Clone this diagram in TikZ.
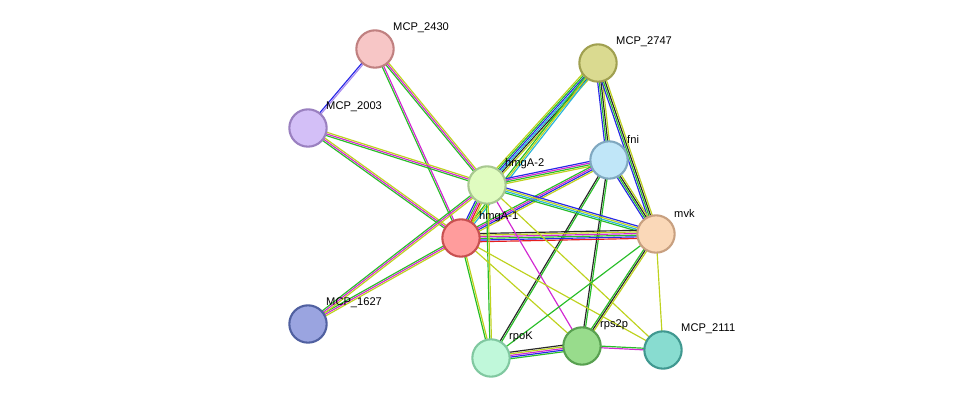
\documentclass[tikz,border=0pt]{standalone}
\usepackage{fontspec}
\setmainfont{Liberation Sans}
\usetikzlibrary{calc}
\definecolor{EGreen}{RGB}{40,190,40}
\definecolor{EMag}{RGB}{210,40,210}
\definecolor{EYel}{RGB}{190,210,30}
\definecolor{EBlue}{RGB}{40,40,230}
\definecolor{ECyan}{RGB}{40,180,220}
\definecolor{ELil}{RGB}{170,140,240}
\definecolor{ERed}{RGB}{230,30,30}
\definecolor{EBlack}{RGB}{40,40,40}
\tikzset{
    prot/.style={circle, line width=1.8pt, minimum size=11.2mm, inner sep=0pt},
    lbl/.style={font=\fontsize{9.5}{11}\selectfont, anchor=west, inner sep=0pt},
    edge/.style={line width=1pt}
}
% bundle of parallel lines: \bundle{a}{b}{colour list}
\newcommand{\bundle}[3]{%
    \foreach \col [count=\i] in {#3} {\xdef\nb{\i}}%
    \foreach \col [count=\i] in {#3} {%
        \pgfmathsetmacro{\off}{(\i-(\nb+1)/2)*1.4}%
        \draw[edge, draw=\col] ($(#1)!\off pt!90:(#2)$) -- ($(#2)!\off pt!-90:(#1)$);
    }%
}
\begin{document}
\begin{tikzpicture}[x=0.03cm, y=-0.03cm]
    \useasboundingbox (0,0) rectangle (976,404);
    \coordinate (m2430) at (375,49);
    \coordinate (m2747) at (598,63);
    \coordinate (m2003) at (308,128);
    \coordinate (fni) at (609,160);
    \coordinate (hmg2) at (487,185);
    \coordinate (hmg1) at (461,238);
    \coordinate (mvk) at (656,234);
    \coordinate (m1627) at (308,324);
    \coordinate (rpok) at (491,358);
    \coordinate (rps2) at (582,346);
    \coordinate (m2111) at (663,350);
    % edges
    \bundle{m2430}{m2003}{EBlue,ELil}
    \bundle{m2430}{hmg2}{EGreen,EMag,EYel}
    \bundle{m2430}{hmg1}{EGreen,EMag}
    \bundle{m2003}{hmg2}{EGreen,EMag,EYel}
    \bundle{m2003}{hmg1}{EGreen,EMag,EYel}
    \bundle{m2747}{hmg2}{EYel,EGreen,EBlue,ECyan,EBlack,EYel}
    \bundle{m2747}{hmg1}{EGreen,EYel,ECyan}
    \bundle{m2747}{fni}{EBlue,EGreen,EBlack,EYel}
    \bundle{m2747}{mvk}{EBlue,EGreen,EBlack,EYel}
    \bundle{fni}{hmg2}{EBlue,EMag,EGreen,EYel}
    \bundle{fni}{hmg1}{EGreen,EMag,EBlue,EYel}
    \bundle{fni}{mvk}{EBlue,EGreen,EBlack,EYel}
    \bundle{fni}{rpok}{EBlack,EGreen}
    \bundle{fni}{rps2}{EBlack,EGreen}
    \bundle{hmg2}{hmg1}{EBlue,EGreen,EMag,ERed,EYel}
    \bundle{hmg2}{mvk}{EGreen,ECyan,EYel,EBlue}
    \bundle{hmg1}{mvk}{ERed,EBlue,EGreen,EMag,EYel,EBlack}
    \bundle{hmg1}{m1627}{EGreen,EMag,EYel}
    \bundle{hmg2}{m1627}{EGreen,EMag,EYel}
    \bundle{hmg2}{rpok}{EGreen,EYel}
    \bundle{hmg1}{rpok}{EGreen,EYel}
    \bundle{hmg2}{rps2}{EMag}
    \bundle{hmg1}{rps2}{EYel}
    \bundle{hmg2}{m2111}{EYel}
    \bundle{hmg1}{m2111}{EYel}
    \bundle{mvk}{rpok}{EGreen}
    \bundle{mvk}{rps2}{EGreen,EBlack,EYel}
    \bundle{mvk}{m2111}{EYel}
    \bundle{rpok}{rps2}{EGreen,EBlue,EMag,EYel,EBlack}
    \bundle{rps2}{m2111}{EMag,EGreen}
    % proteins
    \node[prot, fill={rgb,255:red,247;green,198;blue,198}, draw={rgb,255:red,192;green,128;blue,128}] (n2430) at (m2430) {};
    \node[prot, fill={rgb,255:red,218;green,218;blue,144}, draw={rgb,255:red,160;green,160;blue,80}] (n2747) at (m2747) {};
    \node[prot, fill={rgb,255:red,211;green,191;blue,247}, draw={rgb,255:red,154;green,128;blue,192}] (n2003) at (m2003) {};
    \node[prot, fill={rgb,255:red,192;green,230;blue,248}, draw={rgb,255:red,128;green,168;blue,192}] (nfni) at (fni) {};
    \node[prot, fill={rgb,255:red,224;green,252;blue,192}, draw={rgb,255:red,168;green,200;blue,144}] (nhmg2) at (hmg2) {};
    \node[prot, fill={rgb,255:red,255;green,156;blue,156}, draw={rgb,255:red,200;green,80;blue,80}] (nhmg1) at (hmg1) {};
    \node[prot, fill={rgb,255:red,250;green,216;blue,184}, draw={rgb,255:red,200;green,160;blue,128}] (nmvk) at (mvk) {};
    \node[prot, fill={rgb,255:red,154;green,164;blue,224}, draw={rgb,255:red,80;green,96;blue,160}] (n1627) at (m1627) {};
    \node[prot, fill={rgb,255:red,192;green,248;blue,218}, draw={rgb,255:red,128;green,200;blue,160}] (nrpok) at (rpok) {};
    \node[prot, fill={rgb,255:red,152;green,220;blue,140}, draw={rgb,255:red,88;green,160;blue,80}] (nrps2) at (rps2) {};
    \node[prot, fill={rgb,255:red,136;green,220;blue,208}, draw={rgb,255:red,64;green,152;blue,144}] (n2111) at (m2111) {};
    % labels
    \node[lbl] at ($(m2430)+(18,-21)$) {MCP\_2430};
    \node[lbl] at ($(m2747)+(18,-21)$) {MCP\_2747};
    \node[lbl] at ($(m2003)+(18,-21)$) {MCP\_2003};
    \node[lbl] at ($(fni)+(18,-21)$) {fni};
    \node[lbl] at ($(hmg2)+(18,-21)$) {hmgA-2};
    \node[lbl] at ($(hmg1)+(18,-21)$) {hmgA-1};
    \node[lbl] at ($(mvk)+(18,-21)$) {mvk};
    \node[lbl] at ($(m1627)+(18,-21)$) {MCP\_1627};
    \node[lbl] at ($(rpok)+(18,-21)$) {rpoK};
    \node[lbl] at ($(rps2)+(18,-21)$) {rps2p};
    \node[lbl] at ($(m2111)+(18,-21)$) {MCP\_2111};
\end{tikzpicture}
\end{document}
